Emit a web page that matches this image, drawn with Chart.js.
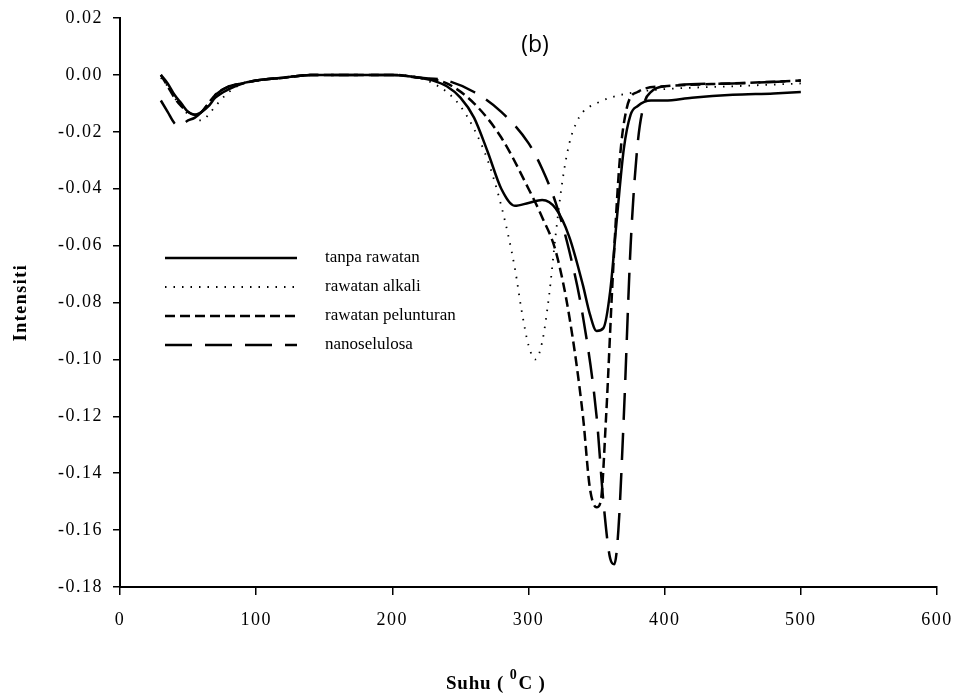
<!DOCTYPE html>
<html>
<head>
<meta charset="utf-8">
<script src="https://cdn.jsdelivr.net/npm/chart.js@4.4.1/dist/chart.umd.min.js"></script>
<style>
  html, body { margin: 0; padding: 0; background: #fff; }
  #wrap { width: 958px; height: 698px; }
</style>
</head>
<body>
<div id="wrap"><canvas id="c" width="958" height="698"></canvas></div>
<script>
// data (suhu in °C, intensiti)
const labels = ['tanpa rawatan', 'rawatan alkali', 'rawatan pelunturan', 'nanoselulosa'];

const tempTanpa = [30, 35, 40, 45, 50, 55, 60, 65, 70, 80, 90, 100, 120, 140, 160, 180, 200, 220, 230, 240, 250, 260, 270, 280, 290, 300, 310, 320, 330, 340, 345, 350, 355, 360, 365, 370, 375, 380, 390, 400, 420, 450, 480, 500];
const valTanpa = [0, -0.003, -0.007, -0.010, -0.013, -0.014, -0.013, -0.011, -0.008, -0.005, -0.003, -0.002, -0.001, 0, 0, 0, 0, -0.001, -0.002, -0.004, -0.008, -0.015, -0.027, -0.040, -0.046, -0.045, -0.044, -0.047, -0.057, -0.074, -0.084, -0.090, -0.089, -0.076, -0.050, -0.026, -0.014, -0.011, -0.009, -0.009, -0.008, -0.007, -0.0065, -0.006];

const tempAlkali = [30, 35, 40, 45, 50, 55, 60, 65, 70, 80, 90, 100, 120, 140, 160, 180, 200, 220, 230, 240, 250, 260, 270, 280, 290, 295, 300, 305, 310, 315, 320, 325, 330, 335, 340, 350, 360, 380, 400, 450, 500];
const valAlkali = [-0.001, -0.004, -0.008, -0.011, -0.014, -0.016, -0.016, -0.014, -0.011, -0.006, -0.003, -0.002, -0.001, 0, 0, 0, 0, -0.001, -0.003, -0.006, -0.011, -0.019, -0.030, -0.046, -0.068, -0.083, -0.095, -0.100, -0.094, -0.078, -0.056, -0.037, -0.024, -0.017, -0.013, -0.010, -0.008, -0.006, -0.005, -0.004, -0.003];

const tempPelunturan = [30, 35, 40, 45, 50, 55, 60, 65, 70, 80, 90, 100, 120, 140, 160, 180, 200, 220, 240, 260, 280, 300, 310, 320, 330, 340, 345, 350, 353, 357, 362, 367, 372, 380, 400, 450, 500];
const valPelunturan = [0, -0.004, -0.008, -0.011, -0.013, -0.014, -0.013, -0.010, -0.007, -0.004, -0.003, -0.002, -0.001, 0, 0, 0, 0, -0.001, -0.003, -0.010, -0.022, -0.040, -0.050, -0.062, -0.085, -0.120, -0.145, -0.152, -0.150, -0.120, -0.070, -0.030, -0.012, -0.006, -0.004, -0.003, -0.002];

const tempNano = [30, 35, 40, 43, 50, 55, 60, 65, 70, 80, 90, 100, 120, 140, 160, 180, 200, 220, 240, 260, 280, 300, 310, 320, 330, 340, 350, 355, 360, 363, 366, 370, 375, 380, 385, 390, 400, 450, 500];
const valNano = [-0.009, -0.013, -0.017, -0.018, -0.016, -0.015, -0.013, -0.010, -0.007, -0.004, -0.003, -0.002, -0.001, 0, 0, 0, 0, -0.001, -0.002, -0.006, -0.013, -0.024, -0.033, -0.045, -0.062, -0.085, -0.120, -0.150, -0.170, -0.172, -0.160, -0.120, -0.060, -0.025, -0.010, -0.006, -0.004, -0.003, -0.002];

const yTicks = { min: -0.18, max: 0.02, step: 0.02 };
const xTicks = { min: 0, max: 600, step: 100 };

const toPts = (xs, ys) => xs.map((x, i) => ({ x: x, y: ys[i] }));

const styles = [
  { dash: [], width: 2.5 },
  { dash: [1.5, 7], width: 1.8 },
  { dash: [10, 5], width: 2.5 },
  { dash: [27, 13], width: 2.5 }
];

const series = [
  toPts(tempTanpa, valTanpa),
  toPts(tempAlkali, valAlkali),
  toPts(tempPelunturan, valPelunturan),
  toPts(tempNano, valNano)
];

const serif = '"Liberation Serif", "Times New Roman", serif';

// jarak huruf untuk teks paksi, macam gambar asal
const spacingPlugin = {
  id: 'spacing',
  beforeDraw(chart) { chart.ctx.letterSpacing = '1.5px'; },
  afterDraw(chart) { chart.ctx.letterSpacing = '0px'; }
};

// legend kat dalam kawasan carta, ditulis sendiri
const legendPlugin = {
  id: 'ownLegend',
  afterDraw(chart) {
    const ctx = chart.ctx;
    const x0 = 165, x1 = 297, tx = 325;
    const ys = [258, 287, 316, 345];
    ctx.save();
    ctx.letterSpacing = '0px';
    chart.data.datasets.forEach((ds, i) => {
      ctx.beginPath();
      ctx.setLineDash(ds.borderDash || []);
      ctx.lineWidth = ds.borderWidth;
      ctx.strokeStyle = '#000';
      ctx.moveTo(x0, ys[i]);
      ctx.lineTo(x1, ys[i]);
      ctx.stroke();
      ctx.setLineDash([]);
      ctx.fillStyle = '#000';
      ctx.font = '17px ' + serif;
      ctx.textBaseline = 'middle';
      ctx.textAlign = 'left';
      ctx.fillText(ds.label, tx, ys[i]);
    });
    // label (b)
    ctx.font = '23px "Open Sans", sans-serif';
    ctx.textAlign = 'center';
    ctx.fillText('(b)', 535, 45);
    // tajuk paksi x dengan superskrip
    ctx.letterSpacing = '0.8px';
    ctx.font = 'bold 19px ' + serif;
    ctx.textAlign = 'left';
    ctx.textBaseline = 'alphabetic';
    const parts1 = 'Suhu ( ';
    let x = 446;
    const y = 689;
    ctx.fillText(parts1, x, y);
    x += ctx.measureText(parts1).width;
    ctx.font = 'bold 14px ' + serif;
    ctx.fillText('0', x, y - 10);
    x += ctx.measureText('0').width + 1;
    ctx.font = 'bold 19px ' + serif;
    ctx.fillText('C )', x, y);
    ctx.restore();
  }
};

new Chart(document.getElementById('c'), {
  type: 'line',
  data: {
    datasets: series.map((pts, i) => ({
      label: labels[i],
      data: pts,
      borderColor: '#000',
      backgroundColor: '#000',
      borderWidth: styles[i].width,
      borderDash: styles[i].dash,
      pointRadius: 0,
      fill: false,
      cubicInterpolationMode: 'monotone'
    }))
  },
  options: {
    responsive: false,
    animation: false,
    layout: { padding: { top: 18, right: 21, left: 0, bottom: 0 } },
    plugins: {
      legend: { display: false },
      tooltip: { enabled: false }
    },
    scales: {
      x: {
        type: 'linear',
        min: xTicks.min,
        max: xTicks.max,
        afterFit(scale) { scale.height = 111; scale.paddingRight = 0; scale.paddingLeft = 0; },
        grid: { drawOnChartArea: false, drawTicks: true, tickLength: 8, color: '#000', lineWidth: 1.5 },
        border: { color: '#000', width: 2 },
        ticks: { stepSize: xTicks.step, color: '#000', font: { family: serif, size: 18 }, padding: 14 },
        title: { display: false }
      },
      y: {
        min: yTicks.min,
        max: yTicks.max,
        afterFit(scale) { scale.width = 120; scale.paddingTop = 0; scale.paddingBottom = 0; },
        grid: { drawOnChartArea: false, drawTicks: true, tickLength: 7, color: '#000', lineWidth: 1.5 },
        border: { color: '#000', width: 2 },
        ticks: {
          stepSize: yTicks.step,
          color: '#000',
          font: { family: serif, size: 18 },
          padding: 10,
          callback: (v) => (Math.abs(v) < 1e-9 ? 0 : v).toFixed(2)
        },
        title: { display: true, text: 'Intensiti', color: '#000', font: { family: serif, size: 18, weight: 'bold' }, padding: { top: 11, bottom: 0 } }
      }
    }
  },
  plugins: [spacingPlugin, legendPlugin]
});
</script>
</body>
</html>
